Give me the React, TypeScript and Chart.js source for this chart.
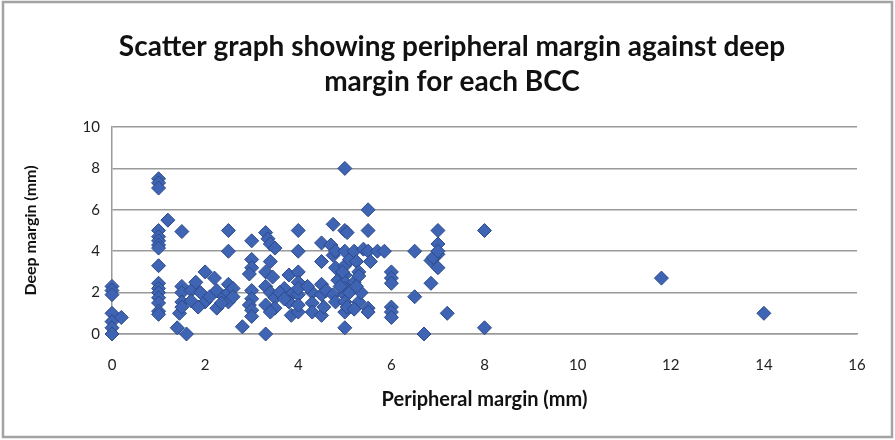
import React, { useEffect, useRef } from 'react';
import { Chart, registerables } from 'chart.js';

Chart.register(...registerables);

const titleLines = ['Scatter graph showing peripheral margin against deep', 'margin for each BCC'];
const xAxisTitle = 'Peripheral margin (mm)';
const yAxisTitle = 'Deep margin (mm)';

const xTickMin = 0;
const xTickMax = 16;
const xTickStep = 2;
const yTickMin = 0;
const yTickMax = 10;
const yTickStep = 2;

const peripheral = [
  0, 0, 0, 0, 0, 0, 0, 0.2,
  1, 1, 1, 1, 1, 1, 1, 1, 1, 1, 1, 1, 1, 1, 1, 1,
  1.2, 1.5,
  1.5, 1.5, 1.5, 1.45, 1.5, 1.4, 1.6,
  1.7, 1.7, 1.8, 2.0, 1.9, 2.0, 2.1, 2.25, 2.25, 2.4, 2.5, 2.5, 2.5, 2.2, 2.6, 2.6, 2.35, 1.85,
  2.5, 2.5,
  2.8, 3.0, 3.0, 3.0, 2.95, 3.0, 3.0, 2.95, 3.0, 3.0,
  3.3, 3.35, 3.4, 3.5, 3.4, 3.3, 3.45, 3.3, 3.4, 3.5, 3.3, 3.5, 3.4, 3.3,
  3.7, 3.8, 3.85, 3.8, 3.85, 3.6, 3.7,
  4.0, 4.0, 4.0, 4.0, 4.0, 4.0, 4.0, 4.0,
  4.3, 4.3, 4.3, 4.2,
  4.5, 4.5, 4.5, 4.5, 4.5, 4.55, 4.6,
  4.75, 4.7, 4.75, 4.8, 4.75, 4.8, 4.8, 4.85,
  5.0, 5.0, 5.05, 5.0, 5.0, 5.0, 5.0, 5.0, 5.0, 5.0, 5.0, 5.0, 5.1, 4.95, 5.1, 5.05, 4.9,
  5.2, 5.25, 5.3, 5.2, 5.3, 5.4, 5.35, 5.2, 5.3, 5.25,
  5.5, 5.5, 5.5, 5.55, 5.5, 5.5,
  5.7, 5.85,
  6.0, 6.0, 6.0, 6.0, 6.0, 6.0,
  6.5, 6.5, 6.7,
  7.0, 7.0, 7.0, 6.85, 7.0, 6.85, 6.9, 7.0,
  7.2, 8.0, 8.0, 11.8, 14.0,
];

const deep = [
  2.3, 2.1, 1.9, 1.0, 0.6, 0.3, 0.0, 0.8,
  7.5, 7.3, 7.05, 5.0, 4.7, 4.5, 4.3, 4.15, 3.3, 2.45, 2.2, 2.0, 1.75, 1.5, 1.1, 0.95,
  5.5, 4.95,
  2.3, 2.0, 1.55, 1.0, 1.3, 0.3, 0.0,
  2.1, 1.6, 2.5, 3.0, 2.0, 1.55, 1.8, 2.1, 1.25, 1.8, 2.4, 2.0, 1.55, 2.7, 2.2, 1.8, 1.5, 1.3,
  5.0, 4.0,
  0.35, 4.5, 3.6, 3.2, 2.9, 2.1, 1.7, 1.4, 1.15, 0.85,
  4.9, 4.6, 4.35, 4.15, 3.5, 3.0, 2.75, 2.3, 2.0, 1.75, 1.4, 1.25, 1.06, 0.0,
  2.2, 2.85, 1.9, 1.55, 0.9, 2.0, 1.7,
  5.0, 4.0, 3.0, 2.5, 1.9, 1.06, 2.2, 1.4,
  2.0, 1.5, 1.06, 2.3,
  4.4, 3.5, 2.4, 1.9, 0.9, 1.3, 2.1,
  5.3, 4.3, 3.8, 3.2, 1.9, 1.55, 4.0, 2.6,
  8.0, 5.0, 4.9, 4.0, 3.3, 2.85, 2.5, 2.2, 1.9, 1.55, 1.06, 0.3, 3.6, 3.0, 2.0, 1.3, 2.3,
  4.0, 3.5, 3.0, 2.5, 1.55, 4.1, 2.0, 1.2, 2.8, 2.3,
  6.0, 5.0, 4.0, 3.5, 1.25, 1.06,
  4.0, 4.0,
  3.0, 2.7, 2.45, 1.3, 1.06, 0.8,
  4.0, 1.8, 0.0,
  5.0, 4.35, 3.85, 3.55, 3.2, 2.45, 3.7, 4.0,
  1.0, 5.0, 0.3, 2.7, 1.0,
];

const framePlugin = {
  id: 'frameAndTitle',
  beforeDraw(chart: any) {
    const ctx = chart.ctx;
    ctx.save();
    ctx.fillStyle = '#ffffff';
    ctx.fillRect(0, 0, chart.width, chart.height);
    ctx.strokeStyle = '#a3a3a3';
    ctx.lineWidth = 2.5;
    ctx.strokeRect(3, 2, chart.width - 6, chart.height - 5);
    ctx.restore();
  },
  afterDraw(chart: any) {
    const ctx = chart.ctx;
    ctx.save();
    ctx.fillStyle = '#111111';
    ctx.font = 'bold 28px Lato';
    ctx.textAlign = 'center';
    ctx.textBaseline = 'middle';
    titleLines.forEach((line, i) => {
      ctx.fillText(line, 452, 47 + i * 35);
    });
    ctx.restore();
  },
};

export default function App() {
  const canvasRef = useRef<HTMLCanvasElement | null>(null);

  useEffect(() => {
    if (!canvasRef.current) return;
    const points = peripheral.map((x, i) => ({ x, y: deep[i] }));
    const chart = new Chart(canvasRef.current, {
      type: 'scatter',
      data: {
        datasets: [
          {
            label: 'BCC',
            data: points,
            clip: false,
            pointStyle: 'rectRot',
            pointRadius: 7,
            pointHoverRadius: 7,
            backgroundColor: '#3f64b4',
            borderColor: '#2c4a8a',
            borderWidth: 1,
          },
        ],
      },
      options: {
        animation: false,
        responsive: false,
        events: [],
        layout: { padding: { top: 127, left: 4, right: 38, bottom: 0 } },
        plugins: {
          legend: { display: false },
          title: { display: false },
          tooltip: { enabled: false },
        },
        scales: {
          x: {
            type: 'linear',
            min: xTickMin,
            max: xTickMax,
            ticks: {
              stepSize: xTickStep,
              font: { family: 'Lato', size: 15 },
              color: '#222222',
              padding: 22,
              maxRotation: 0,
            },
            grid: { display: false, drawTicks: false },
            border: { display: true, color: '#9a9a9a', width: 1.5 },
            title: {
              display: true,
              text: xAxisTitle,
              font: { family: 'Lato', size: 20, weight: 'bold' },
              color: '#111111',
              padding: { top: 0, bottom: 28 },
            },
            afterFit(scale: any) {
              scale.height = 106;
            },
          },
          y: {
            type: 'linear',
            min: yTickMin,
            max: yTickMax,
            ticks: {
              stepSize: yTickStep,
              font: { family: 'Lato', size: 15 },
              color: '#222222',
              padding: 12,
            },
            grid: { color: '#9a9a9a', lineWidth: 1.5, drawTicks: false },
            border: { display: true, color: '#9a9a9a', width: 1.5 },
            title: {
              display: true,
              text: yAxisTitle,
              font: { family: 'Lato', size: 16, weight: 'bold' },
              color: '#111111',
              padding: { top: 17, bottom: 0 },
            },
            afterFit(scale: any) {
              scale.width = 108;
            },
          },
        },
      },
      plugins: [framePlugin],
    });
    return () => chart.destroy();
  }, []);

  return (
    <div style={{ position: 'fixed', left: 0, top: 0, width: 895, height: 440, background: '#fff' }}>
      <canvas ref={canvasRef} width={895} height={440} style={{ display: 'block' }} />
    </div>
  );
}
